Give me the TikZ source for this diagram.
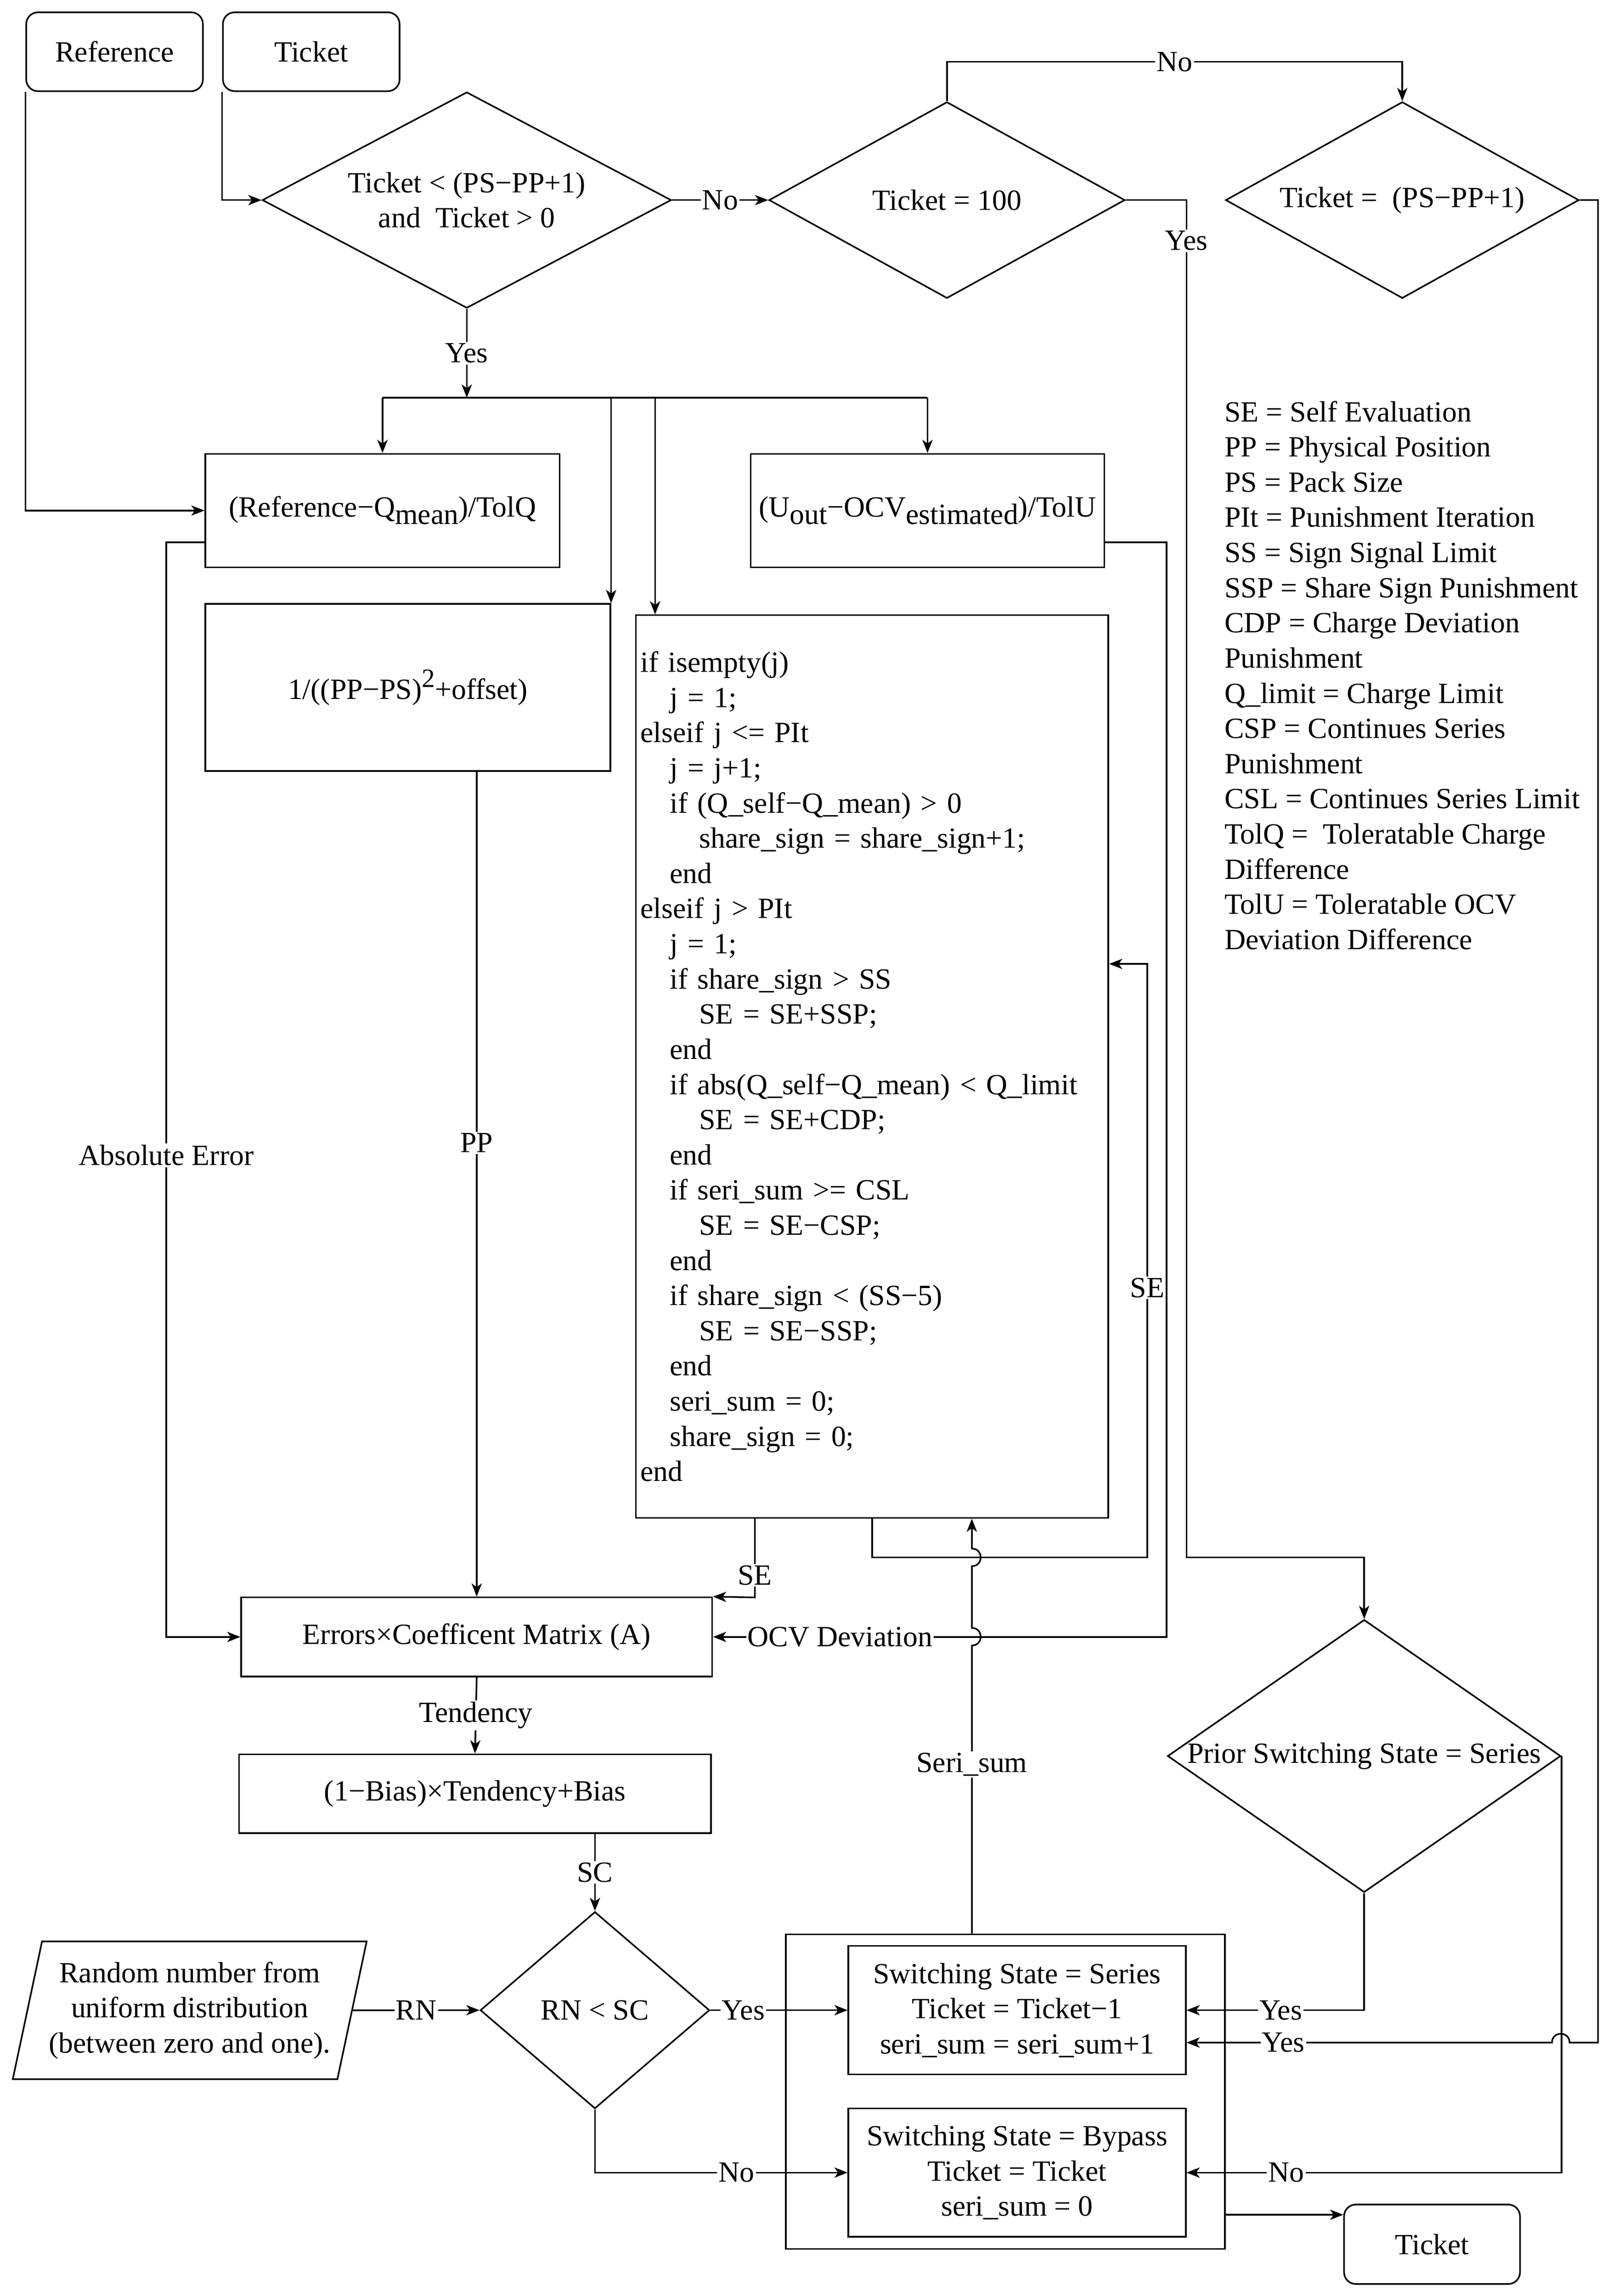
\documentclass[tikz,border=0pt]{standalone}
\usepackage{fontspec}
\setmainfont{Liberation Serif}
\usetikzlibrary{arrows.meta,shapes.geometric}
\newcommand{\lo}[1]{\raisebox{-5pt}{#1}}
\newcommand{\hi}[1]{\raisebox{8pt}{\fontsize{18}{20}\selectfont #1}}
\newcommand{\codeind}{\hspace*{20pt}}
\newcommand{\codeindd}{\hspace*{40pt}}

\begin{document}
\begin{tikzpicture}[x=1pt,y=-1pt,line width=1.1pt,
		>={Stealth[length=9pt,width=7pt,inset=2.5pt]},
		every node/.style={font=\fontsize{20}{24}\selectfont},
		box/.style={draw,rectangle,inner sep=0pt,align=center},
		term/.style={box,rounded corners=8pt,minimum width=120.5pt,minimum height=53.8pt},
		deci/.style={draw,diamond,inner sep=0pt,align=center,shape aspect=1.8},
		lab/.style={fill=white,inner sep=1pt}]
					\useasboundingbox (0,0) rectangle (1100,1566.4);
					\node[term] (ref) at (78.15,35.3) {Reference};
					\node[term] (tin) at (212.3,35.3) {Ticket};
					\node[deci,minimum width=279pt,minimum height=147.4pt] (d1) at (318.4,136.5) {Ticket < (PS−PP+1)\\and \ Ticket > 0};
					\node[deci,minimum width=242.8pt,minimum height=134pt] (d2) at (645.9,136.5) {Ticket = 100};
					\node[deci,minimum width=241pt,minimum height=134pt] (d3) at (956.5,136.5) {Ticket = \ (PS−PP+1)};
					\node[box,minimum width=241.8pt,minimum height=77.4pt] (eq) at (260.9,348.3) {(Reference−Q\lo{mean})/TolQ};
					\node[box,minimum width=241.3pt,minimum height=77.4pt] (eu) at (632.65,348.3) {(U\lo{out}−OCV\lo{estimated})/TolU};
					\node[box,minimum width=276.3pt,minimum height=114pt] (pw) at (278.15,469) {1/((PP−PS)\hi{2}+offset)};
					\node[box,minimum width=322.2pt,minimum height=615.8pt,text width=316pt,align=left] (code) at (594.9,727.6) {if isempty(j)\\
						\codeind j = 1;\\
						elseif j <= PIt\\
						\codeind j = j+1;\\
						\codeind if (Q\_self−Q\_mean) > 0\\
						\codeindd share\_sign = share\_sign+1;\\
						\codeind end\\
						elseif j > PIt\\
						\codeind j = 1;\\
						\codeind if share\_sign > SS\\
						\codeindd SE = SE+SSP;\\
						\codeind end\\
						\codeind if abs(Q\_self−Q\_mean) < Q\_limit\\
						\codeindd SE = SE+CDP;\\
						\codeind end\\
						\codeind if seri\_sum >= CSL\\
						\codeindd SE = SE−CSP;\\
						\codeind end\\
						\codeind if share\_sign < (SS−5)\\
						\codeindd SE = SE−SSP;\\
						\codeind end\\
						\codeind seri\_sum = 0;\\
						\codeind share\_sign = 0;\\
						end};
					\node[anchor=north west,inner sep=0pt,align=left] (key) at (834.7,273) {SE = Self Evaluation\\
						PP = Physical Position\\
						PS = Pack Size\\
						PIt = Punishment Iteration\\
						SS = Sign Signal Limit\\
						SSP = Share Sign Punishment\\
						CDP = Charge Deviation\\
						Punishment\\
						Q\_limit = Charge Limit\\
						CSP = Continues Series\\
						Punishment\\
						CSL = Continues Series Limit\\
						TolQ = \ Toleratable Charge\\
						Difference\\
						TolU = Toleratable OCV\\
						Deviation Difference};
					\node[box,minimum width=321.3pt,minimum height=53.9pt] (er) at (325.15,1116.75) {Errors×Coefficent Matrix (A)};
					\node[box,minimum width=322pt,minimum height=53.8pt] (bi) at (324,1223.7) {(1−Bias)×Tendency+Bias};
					\node[deci,minimum width=268.2pt,minimum height=186pt,shape aspect=1.44] (pr) at (930.5,1198) {Prior Switching State = Series};
					\node[deci,minimum width=156.4pt,minimum height=134.3pt,shape aspect=1.16] (cm) at (405.8,1371.4) {RN < SC};
					\node[draw,trapezium,trapezium left angle=74,trapezium right angle=106,trapezium stretches=true,minimum width=242pt,minimum height=94pt,inner sep=0pt,align=center] (rn) at (129.4,1371.5) {Random number from\\uniform distribution\\(between zero and one).};
					\node[box,minimum width=299.5pt,minimum height=214.7pt] (hd) at (685.75,1426.95) {};
					\node[box,minimum width=230.1pt,minimum height=87.8pt] (se) at (693.75,1371.4) {Switching State = Series\\Ticket = Ticket−1\\seri\_sum = seri\_sum+1};
					\node[box,minimum width=230.1pt,minimum height=87.6pt] (by) at (693.75,1482.2) {Switching State = Bypass\\Ticket = Ticket\\seri\_sum = 0};
					\node[term,minimum width=120pt,minimum height=54.2pt] (tout) at (976.8,1531.1) {Ticket};
					\coordinate (nt) at (801.2,42.2);
					\coordinate (sp) at (318.4,271.3);
					\coordinate (ci) at ([xshift=13.6pt]code.north west);
					\coordinate (ae) at (113.4,370);
					\coordinate (ov) at (795.8,370);
					\coordinate (sa) at (514.9,1089.8);
					\coordinate (lp) at (782.5,1062.5);
					\coordinate (sb) at ([xshift=-22.85pt]hd.north);
					\coordinate (ya) at (809.3,136.5);
					\coordinate (yb) at (809.3,1062.5);
					\coordinate (ra) at (1090,136.5);
					\coordinate (rb) at (1090,1393.5);
					\coordinate (ho) at ([yshift=-84pt]hd.east);
					\draw[->] (tin.south west) |- (d1.west);
					\draw[->] (ref.south west) |- (eq.west);
					\draw[->] (d1.east) to node[lab] {No}(d2.west);
					\draw[->] (d2.north) |- (nt) node[lab] {No} -| (d3.north);
					\draw[->] (d1.south) to node[lab] {Yes}(sp);
					\draw (eq.north |- sp) -- (eu.north |- sp);
					\draw[->] (eq.north |- sp) -- (eq.north);
					\draw[->] (eu.north |- sp) -- (eu.north);
					\draw[->] (pw.north east |- sp) -- (pw.north east);
					\draw[->] (ci |- sp) -- (ci);
					\draw[->] (eq.west |- ae) -- (ae) |- node[lab,pos=.28] {Absolute Error}(er.west);
					\draw[->] (er.north |- pw.south) to node[lab,pos=.45] {PP}(er.north);
					\draw[->] (eu.east |- ov) -- (ov) |- node[lab,pos=.86] {OCV Deviation}(er.east);
					\draw[->] (sa |- code.south) to node[lab,pos=.72] {SE}(sa) -- (er.north east);
					\draw[->] (code.south) |- (lp) |- node[lab,pos=.227] {SE}([yshift=70pt]code.east);
					\draw[->] (sb) to node[lab,pos=.587] {Seri\_sum}(662.9,1122.6) .. controls +(8,0) and +(8,0) .. (662.9,1110.6) -- (662.9,1068.5) .. controls +(8,0) and +(8,0) .. (662.9,1056.5) -- (sb |- code.south);
					\draw[->] (d2.east) -- (ya) to node[lab,pos=.03] {Yes}(yb) -| (pr.north);
					\draw[->] (d3.east) -- (ra) -- (rb) -- (1070.6,1393.5) .. controls +(0,-8) and +(0,-8) .. (1058.6,1393.5) to node[lab,pos=.735] {Yes}(se.east |- rb);
					\draw[->] (pr.south) |- node[lab,pos=.735] {Yes}(se.east);
					\draw[->] (pr.east) |- node[lab,pos=.867] {No}(by.east);
					\draw[->] (rn.east) to node[lab] {RN}(cm.west);
					\draw[->] (cm.east) to node[lab,pos=.24] {Yes}(se.west);
					\draw[->] (cm.south) |- node[lab,pos=.78] {No}(by.west);
					\draw[->] (er.south) to node[lab] {Tendency}(bi.north);
					\draw[->] (bi.south -| cm.north) to node[lab] {SC}(cm.north);
					\draw[->] (ho) -- (ho -| tout.west);
				\end{tikzpicture}
\end{document}
